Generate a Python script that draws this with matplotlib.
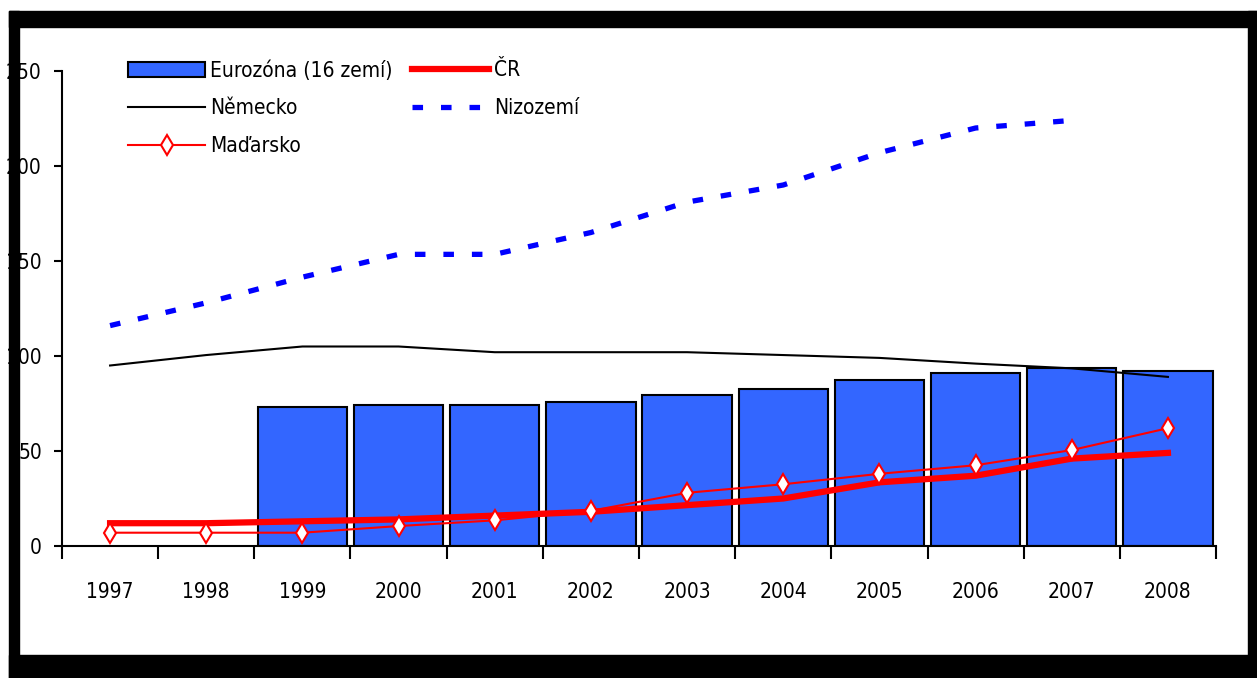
import matplotlib
matplotlib.use("Agg")
import matplotlib.pyplot as plt
from matplotlib import font_manager
from matplotlib.patches import Rectangle
import numpy as np

# data
years = ["1997", "1998", "1999", "2000", "2001", "2002",
         "2003", "2004", "2005", "2006", "2007", "2008"]
eurozona = [np.nan, np.nan, 73, 74, 74, 76, 79.5, 82.5, 87.5, 91, 93.5, 92]
nemecko = [95, 100.5, 105, 105, 102, 102, 102, 100.5, 99, 96, 93.5, 89]
nizozemi = [116, 128, 141.5, 153.5, 153.5, 165, 181, 190, 207, 220, 224, np.nan]
cr = [12, 12, 13, 14, 16, 18, 21.5, 25, 33.5, 37, 46, 49]
madarsko = [7, 7, 7, 10.5, 13.5, 18.5, 28, 32.5, 38, 42.5, 50.5, 62]

# narrow font if one is around, else Liberation Sans (Arial metrics)
names = {f.name for f in font_manager.fontManager.ttflist}
stretch = 'normal'
if 'Liberation Sans Narrow' in names:
    fam = 'Liberation Sans Narrow'
    fsize = 17
else:
    condensed = [f for f in font_manager.fontManager.ttflist
                 if f.name == 'DejaVu Sans' and f.stretch == 'condensed'
                 and f.style == 'normal']
    if condensed:
        fam = 'DejaVu Sans'
        stretch = 'condensed'
        fsize = 15
    else:
        fam = 'Liberation Sans'
        fsize = 14
plt.rcParams['font.family'] = [fam, 'DejaVu Sans']
plt.rcParams['font.stretch'] = stretch

W, H = 1257, 678
fig = plt.figure(figsize=(W / 100, H / 100), dpi=100)
fig.patch.set_facecolor('white')

ax = fig.add_axes([62 / W, 1 - 546 / H, (1216 - 62) / W, (546 - 71) / H])
ax.set_facecolor('none')
x = np.arange(len(years))

b = ax.bar(x, eurozona, width=0.93, color='#3366ff', edgecolor='black',
           linewidth=1.5, label='Eurozóna (16 zemí)', zorder=2)
l1, = ax.plot(x, nemecko, color='black', lw=1.5, label='Německo', zorder=3)
l2, = ax.plot(x, madarsko, color='red', lw=1.5, marker='d', markersize=10,
              markerfacecolor='white', markeredgecolor='red', markeredgewidth=1.5,
              label='Maďarsko', zorder=4)
l3, = ax.plot(x, cr, color='red', lw=4.5, label='ČR', zorder=3)
l4, = ax.plot(x, nizozemi, color='blue', lw=3.8, linestyle=(0, (2, 3.4)),
              dash_capstyle='butt', label='Nizozemí', zorder=3)

ax.set_xlim(-0.5, 11.5)
ax.set_ylim(0, 250)
ax.set_yticks([0, 50, 100, 150, 200, 250])
ax.tick_params(axis='y', direction='out', length=6, width=1.5, pad=8.5, labelsize=fsize)
ax.set_xticks(np.arange(-0.5, 12, 1))
ax.set_xticklabels([])
ax.tick_params(axis='x', which='major', direction='out', length=9, width=1.5)
ax.set_xticks(x, minor=True)
ax.set_xticklabels(years, minor=True)
ax.tick_params(axis='x', which='minor', length=0, pad=26, labelsize=fsize)

for s in ['top', 'right']:
    ax.spines[s].set_visible(False)
for s in ['left', 'bottom']:
    ax.spines[s].set_linewidth(1.5)

ax.legend([b, l1, l2, l3, l4],
          ['Eurozóna (16 zemí)', 'Německo', 'Maďarsko', 'ČR', 'Nizozemí'],
          ncol=2, loc='upper left', bbox_to_anchor=(128 / W, 1 - 60 / H),
          bbox_transform=fig.transFigure, frameon=False, fontsize=fsize,
          handlelength=3.7, handletextpad=0.25, columnspacing=0.9,
          labelspacing=0.85, borderpad=0, borderaxespad=0)

# black frame around the picture
frame = [(9, 11, W - 9, 16), (9, 655, W - 9, H - 655),
         (9, 11, 10, H - 11), (1248, 11, W - 1248, H - 11)]
for fx, fy, fw, fh in frame:
    fig.patches.append(Rectangle((fx / W, 1 - (fy + fh) / H), fw / W, fh / H,
                                 transform=fig.transFigure, color='black',
                                 zorder=10))

fig.savefig('out.png', dpi=100)
